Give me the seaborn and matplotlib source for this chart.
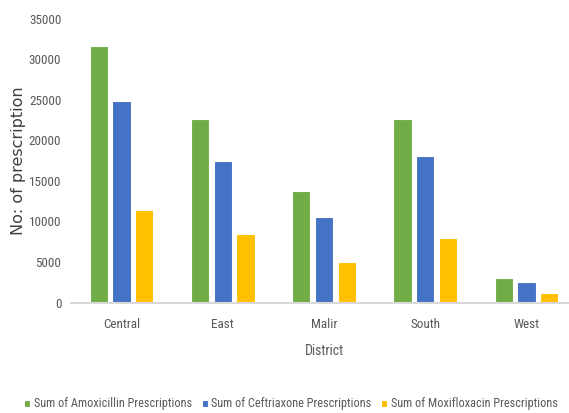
import matplotlib
matplotlib.use("Agg")
import matplotlib.pyplot as plt
from matplotlib import font_manager
import seaborn as sns
import pandas as pd

# Prescription totals by district
districts = ["Central", "East", "Malir", "South", "West"]
amoxicillin = [31600, 22700, 13800, 22600, 3050]
ceftriaxone = [24900, 17400, 10550, 18100, 2500]
moxifloxacin = [11400, 8400, 5050, 7950, 1200]
series_names = [
    "Sum of Amoxicillin Prescriptions",
    "Sum of Ceftriaxone Prescriptions",
    "Sum of Moxifloxacin Prescriptions",
]
y_ticks = [0, 5000, 10000, 15000, 20000, 25000, 30000, 35000]

rows = []
for name, vals in zip(series_names, [amoxicillin, ceftriaxone, moxifloxacin]):
    for d, v in zip(districts, vals):
        rows.append({"District": d, "Series": name, "Value": v})
df = pd.DataFrame(rows)

sns.set_theme(style="white")

# pick the narrowest sans face that is installed
installed = {f.name for f in font_manager.fontManager.ttflist}
narrow_font = None
for cand in ["Liberation Sans Narrow", "Roboto Condensed", "Open Sans Condensed",
             "DejaVu Sans Condensed", "Lato", "Roboto"]:
    if cand in installed:
        narrow_font = cand
        break
if narrow_font is None:
    narrow_font = "DejaVu Sans"
plt.rcParams["font.family"] = [narrow_font, "DejaVu Sans"]

W, H = 569, 413
fig = plt.figure(figsize=(W / 100, H / 100), dpi=100)
renderer = fig.canvas.get_renderer()


def size_for_width(text, target_px, family, base=10.0):
    """Font size (pt) that gives `text` the requested width in pixels."""
    t = fig.text(0, 0, text, fontsize=base, family=family)
    w = t.get_window_extent(renderer).width
    t.remove()
    return base * target_px / w


tick_fs = size_for_width("35000", 32, [narrow_font])
xtick_fs = size_for_width("Central", 37, [narrow_font])
title_fs = size_for_width("District", 39, [narrow_font])
legend_fs = size_for_width(series_names[0], 157, [narrow_font])
ylab_fs = size_for_width("No: of prescription", 148, ["DejaVu Sans"])

left_px, right_px, top_px, bottom_px = 71, 569, 18.8, 302.5
ax = fig.add_axes([left_px / W, 1 - bottom_px / H,
                   (right_px - left_px) / W, (bottom_px - top_px) / H])

palette = ["#70AD47", "#4472C4", "#FFC000"]
sns.barplot(data=df, x="District", y="Value", hue="Series",
            order=districts, hue_order=series_names, palette=palette,
            width=0.675, gap=0.2, edgecolor="white", linewidth=0.8,
            saturation=1, ax=ax, legend=True)

ax.set_ylim(0, 35000)
ax.set_yticks(y_ticks)
ax.set_yticklabels([str(t) for t in y_ticks])
ax.set_xlim(-0.5, -0.5 + (right_px - left_px) / 101.2)

for s in ["top", "right", "left"]:
    ax.spines[s].set_visible(False)
ax.spines["bottom"].set_color("#D9D9D9")
ax.spines["bottom"].set_linewidth(1.5)

ax.tick_params(axis="both", length=0, colors="#595959")
ax.tick_params(axis="y", pad=7, labelsize=tick_fs)
ax.tick_params(axis="x", pad=11, labelsize=xtick_fs)

ax.set_xlabel("")
ax.set_ylabel("")
fig.text(324 / W, 1 - 351 / H, "District", fontsize=title_fs, color="#595959",
         ha="center", va="center")
fig.text(19 / W, 1 - 161 / H, "No: of prescription", fontsize=ylab_fs,
         color="#404040", family="DejaVu Sans", rotation=90,
         ha="center", va="center")

px_to_em = 72 / 100 / legend_fs  # pixels expressed in legend font-size units
handles, labels = ax.get_legend_handles_labels()
ax.legend(handles, labels, loc="center left",
          bbox_to_anchor=(24 / W, 1 - 404 / H),
          bbox_transform=fig.transFigure, ncol=3, frameon=False,
          fontsize=legend_fs, handlelength=6 * px_to_em, handleheight=6 * px_to_em,
          handletextpad=3.5 * px_to_em, columnspacing=10 * px_to_em,
          borderpad=0, borderaxespad=0, labelcolor="#595959")

fig.savefig("out.png", dpi=100)
